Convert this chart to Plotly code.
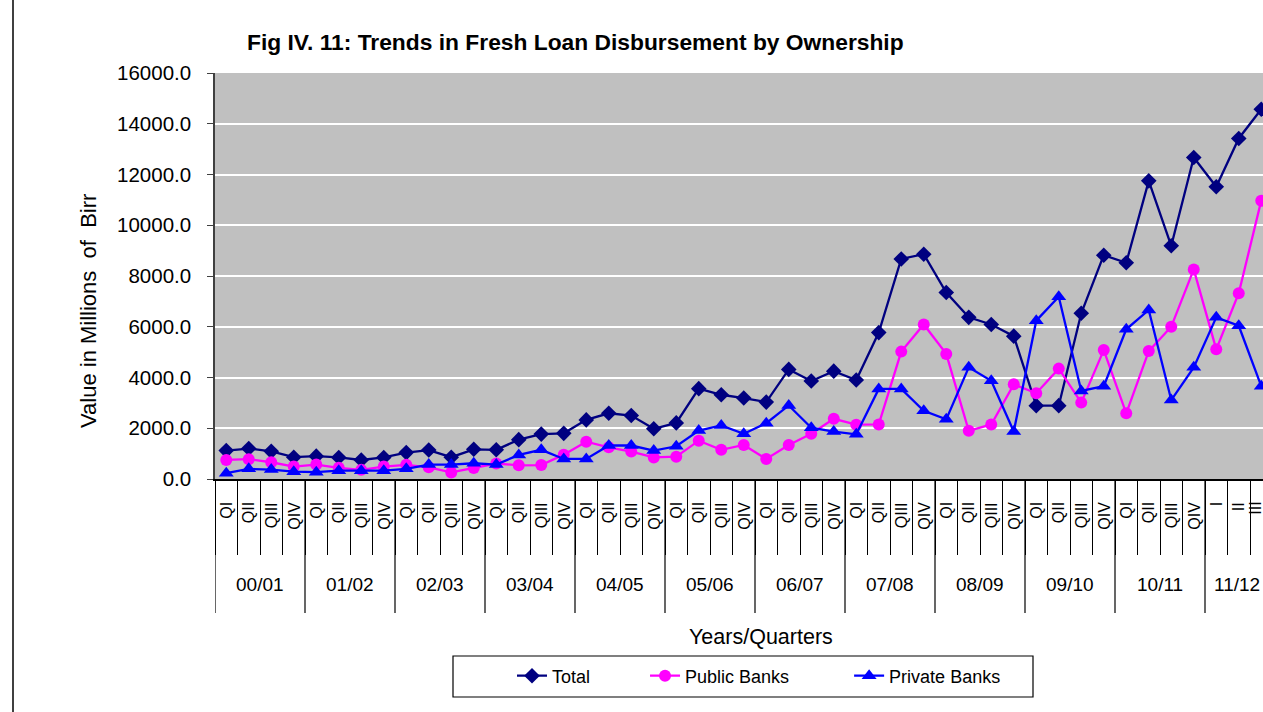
import plotly.graph_objects as go

# Fresh loan disbursement, millions of Birr, by fiscal-year quarter
year_labels = ["00/01", "01/02", "02/03", "03/04", "04/05", "05/06",
               "06/07", "07/08", "08/09", "09/10", "10/11", "11/12"]
quarter_labels = ["QI", "QII", "QIII", "QIV"] * 11 + ["I", "II", "III"]

total = [1120, 1200, 1090, 860, 900, 850, 750, 850, 1040, 1140, 860, 1170,
         1150, 1550, 1770, 1800, 2330, 2590, 2500, 1980, 2210, 3560, 3320, 3190,
         3030, 4320, 3860, 4250, 3900, 5770, 8670, 8860, 7350, 6370, 6090, 5630,
         2890, 2890, 6530, 8820, 8520, 11750, 9190, 12670, 11520, 13420, 14570]
public_banks = [750, 780, 660, 490, 570, 440, 360, 490, 560, 460, 260, 430,
                610, 540, 550, 960, 1470, 1250, 1080, 850, 880, 1510, 1150, 1340,
                790, 1340, 1780, 2370, 2140, 2150, 5020, 6090, 4930, 1900, 2150, 3730,
                3380, 4350, 3010, 5080, 2590, 5040, 6000, 8260, 5110, 7320, 10970]
private_banks = [230, 400, 370, 290, 270, 330, 330, 330, 400, 570, 570, 620,
                 570, 950, 1150, 790, 790, 1320, 1320, 1120, 1290, 1910, 2110, 1780,
                 2200, 2900, 2020, 1870, 1760, 3550, 3550, 2690, 2350, 4400, 3870, 1870,
                 6240, 7180, 3470, 3660, 5900, 6660, 3110, 4400, 6370, 6040, 3660]

y_ticks = [0, 2000, 4000, 6000, 8000, 10000, 12000, 14000, 16000]

FONT = "Liberation Sans, Arial, sans-serif"
W, H = 1263, 712
L, R, T, B = 215, 0, 73, 233
plot_w = W - L - R
plot_h = H - T - B
step = 22.5  # pixels per quarter

x = list(range(len(total)))
x_max = -0.5 + plot_w / step
NB = "\u00a0"


def px_x(p):
    return (p - L) / plot_w


def px_y(p):
    return (H - B - p) / plot_h


fig = go.Figure()
fig.add_trace(go.Scatter(
    x=x, y=total, name="Total" + NB * 10, mode="lines+markers",
    line=dict(color="#000080", width=2.3),
    marker=dict(symbol="diamond", size=12, color="#000080")))
fig.add_trace(go.Scatter(
    x=x, y=public_banks, name="Public Banks" + NB * 11, mode="lines+markers",
    line=dict(color="#FF00FF", width=2.3),
    marker=dict(symbol="circle", size=12, color="#FF00FF")))
fig.add_trace(go.Scatter(
    x=x, y=private_banks, name="Private Banks", mode="lines+markers",
    line=dict(color="#0000FF", width=2.3),
    marker=dict(symbol="triangle-up", size=13, color="#0000FF")))

annotations = []
# quarter labels, rotated, hanging just under the axis
last = len(quarter_labels) - 1
for i, q in enumerate(quarter_labels):
    annotations.append(dict(
        x=i, xref="x", y=px_y(500), yref="paper", text=q, textangle=-90,
        showarrow=False, xanchor="center",
        xshift=-6 if i == last else 0, yanchor="top",
        font=dict(family=FONT, size=16, color="black")))
# fiscal-year labels centred under their four quarters
for k, yl in enumerate(year_labels):
    edge = k == len(year_labels) - 1
    annotations.append(dict(
        x=px_x(1262) if edge else 4 * k + 1.5,
        xref="paper" if edge else "x",
        y=px_y(584), yref="paper", text=yl,
        showarrow=False, xanchor="right" if edge else "center", yanchor="middle",
        font=dict(family=FONT, size=19, color="black")))
annotations += [
    dict(x=px_x(575), y=px_y(42), xref="paper", yref="paper",
         text="<b>Fig IV. 11: Trends in Fresh Loan Disbursement by Ownership</b>",
         showarrow=False, xanchor="center", yanchor="middle",
         font=dict(family=FONT, size=22.8, color="black")),
    dict(x=px_x(88), y=px_y(311), xref="paper", yref="paper",
         text="Value in Millions" + NB + " of" + NB + " Birr", textangle=-90,
         showarrow=False, xanchor="center", yanchor="middle",
         font=dict(family=FONT, size=22, color="black")),
    dict(x=px_x(761), y=px_y(637), xref="paper", yref="paper",
         text="Years/Quarters", showarrow=False, xanchor="center", yanchor="middle",
         font=dict(family=FONT, size=21.5, color="black")),
]

shapes = []
# long dividers between fiscal years
for k in range(len(year_labels)):
    shapes.append(dict(type="line", xref="x", yref="paper",
                       x0=4 * k - 0.5, x1=4 * k - 0.5, y0=0, y1=px_y(613),
                       line=dict(color="black", width=1.2)))
# legend frame
shapes.append(dict(type="rect", xref="paper", yref="paper",
                   x0=px_x(453), x1=px_x(1033), y0=px_y(656), y1=px_y(697),
                   line=dict(color="black", width=1.2), fillcolor="white", layer="below"))
# outer frame line on the left
shapes.append(dict(type="line", xref="paper", yref="paper",
                   x0=px_x(13), x1=px_x(13), y0=px_y(H), y1=px_y(0),
                   line=dict(color="black", width=1.5)))

fig.update_layout(
    width=W, height=H,
    margin=dict(l=L, r=R, t=T, b=B, autoexpand=False),
    paper_bgcolor="white", plot_bgcolor="#C0C0C0",
    font=dict(family=FONT, size=18, color="black"),
    showlegend=True,
    legend=dict(orientation="h", x=px_x(512), xanchor="left",
                y=px_y(676), yanchor="middle",
                bgcolor="rgba(0,0,0,0)", borderwidth=0,
                font=dict(family=FONT, size=18, color="black")),
    annotations=annotations,
    shapes=shapes,
    xaxis=dict(range=[-0.5, x_max], tickmode="array",
               tickvals=[i - 0.5 for i in range(len(total) + 1)],
               showticklabels=False, ticks="outside", ticklen=74,
               tickcolor="black", tickwidth=1.2,
               showgrid=False, zeroline=False,
               showline=True, linecolor="black", linewidth=1.5),
    yaxis=dict(range=[0, 16000], tickmode="array", tickvals=y_ticks,
               ticktext=[f"{v:.1f}" for v in y_ticks],
               ticks="outside", ticklen=6, tickcolor="#404040",
               ticklabelstandoff=12,
               showline=True, linecolor="#404040", linewidth=1.5,
               showgrid=True, gridcolor="white", gridwidth=1.5,
               zeroline=False,
               tickfont=dict(family=FONT, size=20.5, color="black")),
)

fig.write_html("out.html")
